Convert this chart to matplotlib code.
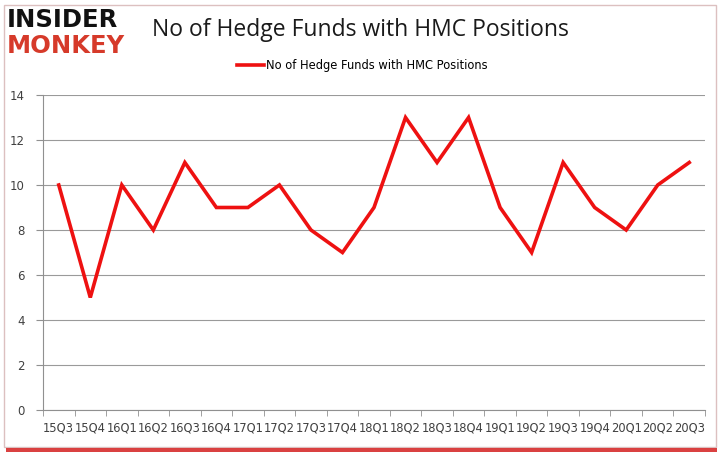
import matplotlib
matplotlib.use("Agg")
import matplotlib.pyplot as plt
from matplotlib.patches import Rectangle

quarters = ["15Q3", "15Q4", "16Q1", "16Q2", "16Q3", "16Q4", "17Q1", "17Q2", "17Q3",
            "17Q4", "18Q1", "18Q2", "18Q3", "18Q4", "19Q1", "19Q2", "19Q3", "19Q4",
            "20Q1", "20Q2", "20Q3"]
funds = [10, 5, 10, 8, 11, 9, 9, 10, 8, 7, 9, 13, 11, 13, 9, 7, 11, 9, 8, 10, 11]
yticks = [0, 2, 4, 6, 8, 10, 12, 14]
title = "No of Hedge Funds with HMC Positions"

fig = plt.figure(figsize=(7.2, 4.57), dpi=100)
fig.patch.set_facecolor("white")

# frame with red shadow at bottom
fig.patches.append(Rectangle((0.006, 0.022), 0.988, 0.968, transform=fig.transFigure,
                             fill=False, edgecolor="#dcc0c0", linewidth=1.0))
fig.patches.append(Rectangle((0.008, 0.010), 0.988, 0.010, transform=fig.transFigure,
                             facecolor="#d42020", edgecolor="none", alpha=0.85))

ax = fig.add_axes([43/720, 1 - 410/457, 662/720, 315/457])
x = list(range(len(quarters)))
ax.plot(x, funds, color="#ee1111", linewidth=2.6, label=title, solid_joinstyle="miter")
ax.set_xlim(-0.5, len(quarters) - 0.5)
ax.set_ylim(0, 14)
ax.set_yticks(yticks)
ax.set_yticklabels([str(v) for v in yticks], fontsize=8.5, color="#404040")
ax.set_xticks(x)
ax.set_xticklabels(quarters, fontsize=8.3, color="#404040")
ax.set_xticks([i - 0.5 for i in range(len(quarters) + 1)], minor=True)
ax.tick_params(axis="x", which="major", length=0, pad=8)
ax.tick_params(axis="x", which="minor", length=4, color="#909090", direction="out")
ax.tick_params(axis="y", length=5, color="#909090", direction="out", pad=8)
ax.grid(axis="y", color="#9a9a9a", linewidth=0.8)
ax.set_axisbelow(True)
for s in ["top", "right"]:
    ax.spines[s].set_visible(False)
ax.spines["left"].set_color("#909090")
ax.spines["bottom"].set_color("#909090")

fig.text(152/720, 1 - 30/457, title, fontsize=16.5, color="#1a1a1a",
         va="center", ha="left", family="Open Sans")
fig.text(7/720, 1 - 20/457, "INSIDER", fontsize=17.5, fontweight="heavy",
         color="#111111", va="center", ha="left", family="DejaVu Sans")
fig.text(7/720, 1 - 46/457, "MONKEY", fontsize=17.5, fontweight="heavy",
         color="#d63a2a", va="center", ha="left", family="DejaVu Sans")

fig.legend(handles=ax.get_lines(), labels=[title], loc="center",
           bbox_to_anchor=(362/720, 1 - 66/457), frameon=False, fontsize=8.3,
           handlelength=2.4, handletextpad=0.1)

fig.savefig("out.png", dpi=100)
